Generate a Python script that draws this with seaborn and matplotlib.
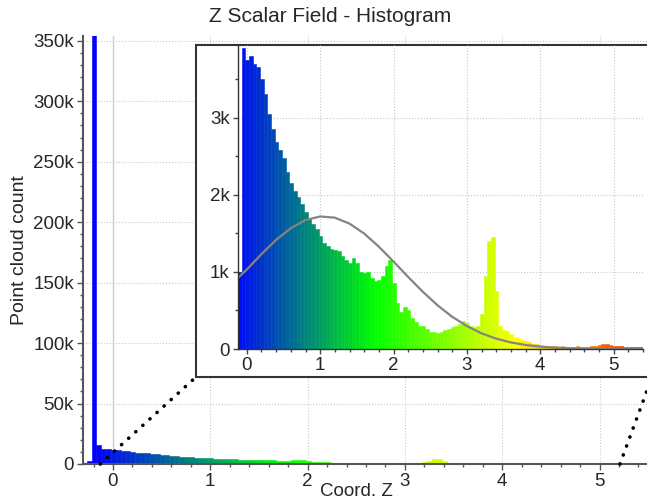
import numpy as np
import pandas as pd
import matplotlib
matplotlib.use("Agg")
import matplotlib.pyplot as plt
from matplotlib.colors import LinearSegmentedColormap, Normalize
from matplotlib.patches import Rectangle, ConnectionPatch
from matplotlib.ticker import MultipleLocator, FuncFormatter
import seaborn as sns

# whole cloud histogram, counts in thousands, bins 0.05 wide starting at -0.27
main_start = -0.27
main_counts_k = [
    2.5, 358, 16, 12.3, 12.0, 11.8, 11.5, 11.1, 10.6, 10.0,
    9.5, 9.1, 8.8, 8.4, 8.0, 7.6, 7.2, 6.8, 6.4, 6.1,
    5.8, 5.5, 5.2, 5.0, 4.8, 4.6, 4.4, 4.2, 4.0, 3.9,
    3.8, 3.6, 3.5, 3.4, 3.5, 3.3, 3.1, 3.0, 3.0, 2.8,
    2.7, 2.8, 2.9, 3.4, 3.6, 2.6, 1.8, 1.5, 1.6, 1.5,
    1.2, 1.05, 0.95, 0.9, 0.8, 0.7, 0.66, 0.63, 0.66, 0.72,
    0.78, 0.84, 0.9, 1.0, 1.08, 1.02, 0.9, 0.87, 0.9, 1.35,
    2.85, 4.2, 4.35, 2.25, 0.9, 0.75, 0.69, 0.57, 0.48, 0.42,
    0.36, 0.3, 0.27, 0.21, 0.18, 0.15, 0.14, 0.12, 0.12, 0.1,
    0.1, 0.1, 0.1, 0.09, 0.09, 0.1, 0.09, 0.09, 0.09, 0.12,
    0.12, 0.15, 0.18, 0.2, 0.15, 0.12, 0.1, 0.12, 0.09, 0.09,
    0.09, 0.08, 0.06,
]

# zoomed histogram (inset), counts in thousands, bins 0.05 wide starting at -0.12
zoom_start = -0.12
zoom_counts_k = [
    1.0, 3.9, 3.75, 3.8, 3.7, 3.65, 3.5, 3.3, 3.05, 2.85,
    2.68, 2.58, 2.48, 2.3, 2.15, 2.05, 1.97, 1.88, 1.78, 1.7,
    1.62, 1.55, 1.47, 1.38, 1.33, 1.3, 1.28, 1.27, 1.2, 1.15,
    1.12, 1.18, 1.12, 1.0, 0.98, 1.0, 0.92, 0.88, 0.9, 0.95,
    1.08, 1.15, 0.85, 0.6, 0.48, 0.55, 0.5, 0.4, 0.35, 0.3,
    0.3, 0.26, 0.22, 0.22, 0.21, 0.22, 0.24, 0.26, 0.28, 0.3,
    0.33, 0.36, 0.34, 0.3, 0.29, 0.3, 0.45, 0.95, 1.4, 1.45,
    0.75, 0.3, 0.25, 0.23, 0.19, 0.16, 0.14, 0.12, 0.1, 0.09,
    0.07, 0.06, 0.05, 0.045, 0.04, 0.04, 0.035, 0.03, 0.035, 0.03,
    0.03, 0.03, 0.035, 0.03, 0.03, 0.03, 0.04, 0.04, 0.05, 0.06,
    0.065, 0.05, 0.04, 0.035, 0.04, 0.03, 0.03, 0.03, 0.025, 0.02,
]
bin_width = 0.05

# gaussian fit drawn in the inset
gauss_z = [-0.12, 0.0, 0.2, 0.4, 0.6, 0.8, 1.0, 1.2, 1.4, 1.6, 1.8, 2.0, 2.2, 2.4,
           2.6, 2.8, 3.0, 3.2, 3.4, 3.6, 3.8, 4.0, 4.2, 4.4, 4.6, 4.8, 5.0, 5.4]
gauss_k = [0.92, 1.03, 1.23, 1.415, 1.566, 1.671, 1.718, 1.702, 1.625, 1.496, 1.326, 1.133, 0.933, 0.741,
           0.566, 0.417, 0.297, 0.203, 0.134, 0.085, 0.052, 0.031, 0.018, 0.01, 0.005, 0.003, 0.001, 0.0]

# scalar field range used by the colour scale
sf_min, sf_max = -0.2, 5.6

sns.set_style("white")
plt.rcParams["font.family"] = ["Liberation Sans", "DejaVu Sans"]

cmap = LinearSegmentedColormap.from_list("bgyr", ["#0000ff", "#00ff00", "#ffff00", "#ff0000"])
norm = Normalize(sf_min, sf_max)

W, H = 647, 500
fig = plt.figure(figsize=(W / 100, H / 100), dpi=100)


def draw_hist(ax, start, counts_k):
    counts = np.array(counts_k) * 1000
    edges = start + bin_width * np.arange(len(counts) + 1)
    df = pd.DataFrame({"z": (edges[:-1] + edges[1:]) / 2, "count": counts})
    sns.histplot(data=df, x="z", weights="count", bins=list(edges), ax=ax,
                 element="bars", linewidth=0, alpha=1)
    for p in ax.patches:
        c = cmap(norm(p.get_x() + p.get_width() / 2))
        p.set_facecolor(c)
        p.set_edgecolor(c)
        p.set_linewidth(0.4)


def k_fmt(v, pos):
    return "0" if abs(v) < 1e-9 else f"{v / 1000:g}k"


# main axes
ax = fig.add_axes([83 / W, 36 / H, 564 / W, 428 / H])
draw_hist(ax, main_start, main_counts_k)
ax.set_xlim(-0.308, 5.488)
ax.set_ylim(0, 354000)
ax.xaxis.set_major_locator(MultipleLocator(1))
ax.xaxis.set_minor_locator(MultipleLocator(0.2))
ax.yaxis.set_major_locator(MultipleLocator(50000))
ax.yaxis.set_minor_locator(MultipleLocator(10000))
ax.yaxis.set_major_formatter(FuncFormatter(k_fmt))
ax.set_axisbelow(True)
ax.grid(True, which="major", linestyle=":", color="#c8c8c8", linewidth=0.8)
ax.axvline(0, color="#d0d0d0", linewidth=1, zorder=0.5)
for s in ["top", "right"]:
    ax.spines[s].set_visible(False)
for s in ["left", "bottom"]:
    ax.spines[s].set_color("#555555")
    ax.spines[s].set_linewidth(1.5)
ax.tick_params(which="major", direction="out", length=4, width=1, color="#555555",
               labelsize=13.5, pad=2.5)
ax.tick_params(which="minor", direction="out", length=2.5, width=1, color="#555555")
ax.tick_params(axis="x", which="both", bottom=True)
ax.tick_params(axis="y", which="both", left=True)
ax.set_xlabel("Coord. Z", fontsize=13.5, labelpad=-5)
ax.xaxis.label.set_x(0.484)
ax.set_ylabel("Point cloud count", fontsize=14, labelpad=4)

fig.text(330 / W, 1 - 16 / H, "Z Scalar Field - Histogram", ha="center", va="center", fontsize=15)

# inset frame
frame_x0, frame_y0 = 196 / W, 1 - 377 / H
frame = Rectangle((frame_x0, frame_y0), (652 - 196) / W, (377 - 45) / H,
                  transform=fig.transFigure, facecolor="white", edgecolor="#333333",
                  linewidth=1.5, zorder=0.5)
fig.add_artist(frame)

# inset axes
axin = fig.add_axes([238 / W, 1 - 349 / H, 405 / W, 304 / H])
axin.set_zorder(1)
axin.set_facecolor("none")
draw_hist(axin, zoom_start, zoom_counts_k)
sns.lineplot(x=gauss_z, y=np.array(gauss_k) * 1000, ax=axin, color="#848484", linewidth=1.6)
axin.set_xlim(-0.12, 5.4)
axin.set_ylim(0, 3940)
axin.xaxis.set_major_locator(MultipleLocator(1))
axin.xaxis.set_minor_locator(MultipleLocator(0.2))
axin.yaxis.set_major_locator(MultipleLocator(1000))
axin.yaxis.set_minor_locator(MultipleLocator(500))
axin.yaxis.set_major_formatter(FuncFormatter(k_fmt))
axin.set_axisbelow(True)
axin.grid(True, which="major", linestyle=":", color="#c8c8c8", linewidth=0.8)
for s in ["top", "right"]:
    axin.spines[s].set_visible(False)
for s in ["left", "bottom"]:
    axin.spines[s].set_color("#333333")
    axin.spines[s].set_linewidth(1.0)
axin.tick_params(which="major", direction="out", length=3.5, width=1, color="#444444",
                 labelsize=13.5, pad=2.5)
axin.tick_params(which="minor", direction="out", length=2.5, width=1, color="#444444")
axin.tick_params(axis="x", which="both", bottom=True)
axin.tick_params(axis="y", which="both", left=True)
axin.set_xlabel("")
axin.set_ylabel("")

# dotted zoom connectors
for z_from, corner in [(-0.13, (frame_x0, frame_y0)), (5.21, (652 / W, frame_y0))]:
    con = ConnectionPatch(xyA=(z_from, 0), coordsA=ax.transData,
                          xyB=corner, coordsB=fig.transFigure,
                          color="black", linewidth=2.6, linestyle=(0, (0.05, 2.6)),
                          capstyle="round", zorder=2)
    fig.add_artist(con)

fig.savefig("out.png", dpi=100)
